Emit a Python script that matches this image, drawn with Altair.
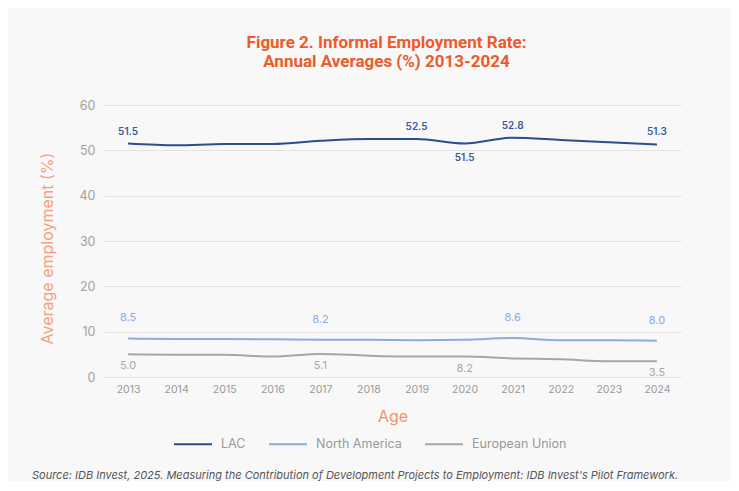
import altair as alt
import pandas as pd

years = [2013, 2014, 2015, 2016, 2017, 2018, 2019, 2020, 2021, 2022, 2023, 2024]
lac = [51.5, 51.1, 51.4, 51.4, 52.1, 52.5, 52.5, 51.5, 52.8, 52.3, 51.8, 51.3]
north_america = [8.5, 8.4, 8.4, 8.3, 8.2, 8.2, 8.1, 8.2, 8.6, 8.1, 8.1, 8.0]
european_union = [5.0, 4.9, 4.9, 4.5, 5.1, 4.7, 4.5, 4.5, 4.1, 3.9, 3.5, 3.5]

series_names = ["LAC", "North America", "European Union"]
series_colors = ["#2c4d8e", "#8eaae6", "#a6a6a6"]

# data labels: (series, year, text, placement)
label_series = ["LAC", "LAC", "LAC", "LAC", "LAC",
                "North America", "North America", "North America", "North America",
                "European Union", "European Union", "European Union", "European Union"]
label_years = [2013, 2019, 2020, 2021, 2024,
               2013, 2017, 2021, 2024,
               2013, 2017, 2020, 2024]
label_texts = ["51.5", "52.5", "51.5", "52.8", "51.3",
               "8.5", "8.2", "8.6", "8.0",
               "5.0", "5.1", "8.2", "3.5"]
label_place = ["lac_above", "lac_above", "lac_below", "lac_above", "lac_above",
               "na_above", "na_above", "na_above", "na_above",
               "eu_below", "eu_below", "eu_below", "eu_below"]

source_text = ("Source: IDB Invest, 2025. Measuring the Contribution of Development Projects "
               "to Employment: IDB Invest's Pilot Framework.")

values = {"LAC": lac, "North America": north_america, "European Union": european_union}
rows = []
for s in series_names:
    for y, v in zip(years, values[s]):
        rows.append({"year": y, "value": v, "series": s})
df = pd.DataFrame(rows)

lrows = []
for s, y, t, p in zip(label_series, label_years, label_texts, label_place):
    v = values[s][years.index(y)]
    lrows.append({"year": y, "value": v, "series": s, "text": t, "place": p})
ldf = pd.DataFrame(lrows)

x_enc = alt.X("year:O", scale=alt.Scale(type="point", padding=0.5),
              axis=alt.Axis(title="Age", labelAngle=0, labelFont="Inter", labelFontSize=10.5,
                            labelColor="#9a9a9a", labelPadding=7, ticks=False, domain=False,
                            grid=False, titleFont="Inter", titleFontSize=16,
                            titleFontWeight="normal", titleColor="#f4906a", titlePadding=14))
y_enc = alt.Y("value:Q", scale=alt.Scale(domain=[0, 60]),
              axis=alt.Axis(title="Average employment (%)", values=[0, 10, 20, 30, 40, 50, 60],
                            labelFont="Inter", labelFontSize=12.5, labelColor="#a0a0a0",
                            labelPadding=9, ticks=False, domain=False, gridColor="#e2e2e2",
                            gridWidth=1, titleFont="Inter", titleFontSize=16,
                            titleFontWeight="normal", titleColor="#f4a07e", titlePadding=24,
                            titleY=143))

color_enc = alt.Color("series:N",
                      scale=alt.Scale(domain=series_names, range=series_colors),
                      legend=alt.Legend(title=None, orient="none", direction="horizontal",
                                        legendX=69, legendY=319, symbolType="stroke",
                                        symbolSize=1444, symbolStrokeWidth=2,
                                        labelFont="Inter", labelFontSize=12.5,
                                        labelColor="#9a9a9a", labelOffset=8,
                                        columnPadding=19, padding=0))

lines = alt.Chart(df).mark_line(strokeWidth=2, interpolate="monotone").encode(
    x=x_enc, y=y_enc, color=color_enc)

def label_layer(place, dy, color, size, weight):
    return alt.Chart(ldf).transform_filter(alt.datum.place == place).mark_text(
        dy=dy, font="Inter", fontSize=size, fontWeight=weight, color=color
    ).encode(x="year:O", y="value:Q", text="text:N")

labels = [
    label_layer("lac_above", -12, "#3d5a98", 10, 600),
    label_layer("lac_below", 14, "#3d5a98", 10, 600),
    label_layer("na_above", -20, "#8eaae6", 11, "normal"),
    label_layer("eu_below", 12, "#a8a8a8", 11, "normal"),
]

source = alt.Chart(pd.DataFrame({"t": [source_text]})).mark_text(
    font="Inter", fontSize=11, fontStyle="italic", color="#555555", align="left"
).encode(x=alt.value(-72), y=alt.value(371), text="t:N")

chart = alt.layer(lines, *labels, source).properties(
    width=577, height=272,
    autosize=alt.AutoSizeParams(type="none"),
    padding={"left": 96, "top": 97, "right": 50, "bottom": 104},
    title=alt.TitleParams(
        text=["Figure 2. Informal Employment Rate:", "Annual Averages (%) 2013-2024"],
        font="Roboto", fontSize=17, fontWeight="bold", color="#ee5a2a",
        anchor="middle", frame="group", offset=28, lineHeight=19, dx=-6),
).configure(background="#f8f8f8").configure_view(stroke=None)

chart.save("out.html", embed_options={"renderer": "svg", "actions": False})
